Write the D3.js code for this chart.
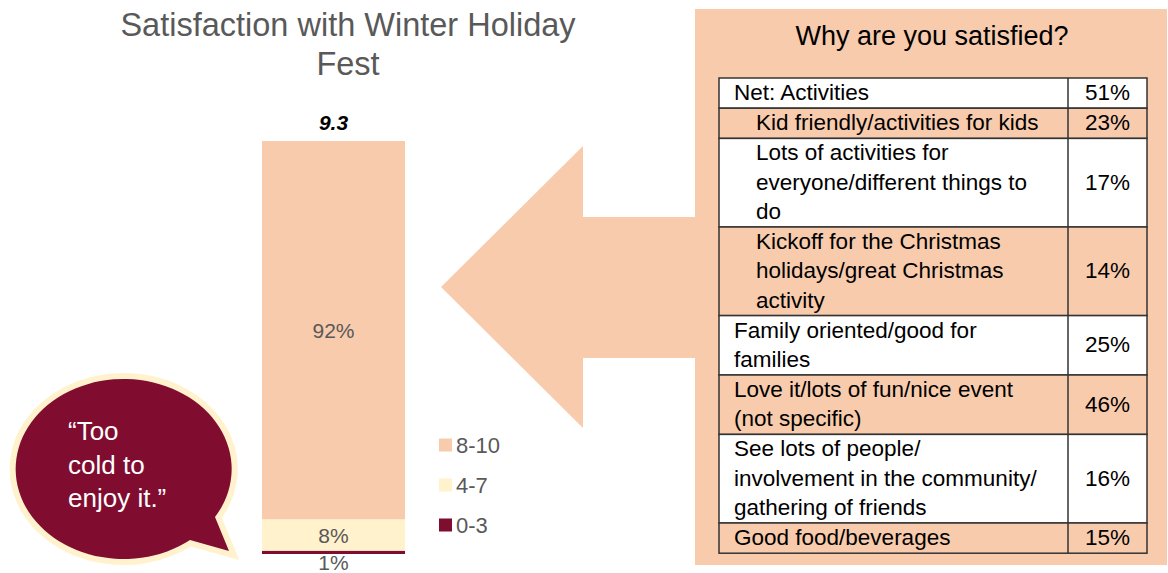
<!DOCTYPE html>
<html>
<head>
<meta charset="utf-8">
<script src="https://cdn.jsdelivr.net/npm/d3@7"></script>
<style>
  body { margin: 0; background: #fff; }
  svg { display: block; font-family: "Liberation Sans", Arial, sans-serif; }
</style>
</head>
<body>
<svg id="chart" width="1168" height="573"></svg>
<script>
// stacked bar, bottom to top
var bands = ["0-3", "4-7", "8-10"];
var shares = [0.8, 7.6, 91.6];
var bandColors = ["#7f0d30", "#fff2cc", "#f8cbad"];
var meanScore = "9.3";

// table on the right
var reasons = [
  ["Net: Activities"],
  ["Kid friendly/activities for kids"],
  ["Lots of activities for", "everyone/different things to", "do"],
  ["Kickoff for the Christmas", "holidays/great Christmas", "activity"],
  ["Family oriented/good for", "families"],
  ["Love it/lots of fun/nice event", "(not specific)"],
  ["See lots of people/", "involvement in the community/", "gathering of friends"],
  ["Good food/beverages"]
];
var reasonPct = [51, 23, 17, 14, 25, 46, 16, 15];
var isSubItem = [false, true, true, true, false, false, false, false];

var quote = ["\u201CToo", "cold to", "enjoy it.\u201D"];

(function() {
  var svg = d3.select("#chart"),
    peach = "#f8cbad",
    grey = "#595959";

  // ---- title
  svg.append("text")
      .attr("x", 348).attr("y", 36)
      .attr("text-anchor", "middle")
      .attr("fill", grey)
      .attr("font-size", 32.5)
    .selectAll("tspan")
    .data(["Satisfaction with Winter Holiday", "Fest"])
    .enter().append("tspan")
      .attr("x", 348)
      .attr("dy", function(d, i) { return i ? 39 : 0; })
      .text(function(d) { return d; });

  // ---- bar
  var y = d3.scaleLinear().domain([0, 100]).range([554, 141]);
  var x = d3.scaleBand().domain(["all"]).range([262, 405]).padding(0);

  var row = {};
  bands.forEach(function(b, i) { row[b] = shares[i]; });
  var series = d3.stack().keys(bands)([row]);
  var color = d3.scaleOrdinal().domain(bands).range(bandColors);
  var fmt = function(v) { return Math.round(v) + "%"; };

  var seg = svg.append("g").selectAll("g")
    .data(series)
    .enter().append("g");

  seg.append("rect")
      .attr("x", x("all"))
      .attr("width", x.bandwidth())
      .attr("y", function(d) { return y(d[0][1]); })
      .attr("height", function(d) { return y(d[0][0]) - y(d[0][1]); })
      .attr("fill", function(d) { return color(d.key); });

  seg.append("text")
      .attr("x", x("all") + x.bandwidth() / 2)
      .attr("y", function(d) {
        var top = y(d[0][1]), bot = y(d[0][0]);
        if (bot - top < 20) return bot + 16; // too thin, put below
        return (top + bot) / 2 + 7.5;
      })
      .attr("text-anchor", "middle")
      .attr("fill", grey)
      .attr("font-size", 21)
      .text(function(d) { return fmt(d[0][1] - d[0][0]); });

  svg.append("text")
      .attr("x", x("all") + x.bandwidth() / 2)
      .attr("y", y(100) - 11)
      .attr("text-anchor", "middle")
      .attr("font-size", 21)
      .attr("font-weight", "bold")
      .attr("font-style", "italic")
      .text(meanScore);

  // ---- legend
  var leg = svg.append("g").attr("transform", "translate(439,445)")
    .selectAll("g")
    .data(bands.slice().reverse())
    .enter().append("g")
      .attr("transform", function(d, i) { return "translate(0," + i * 40 + ")"; });
  leg.append("rect")
      .attr("y", -6.5).attr("width", 13).attr("height", 13)
      .attr("fill", function(d) { return color(d); });
  leg.append("text")
      .attr("x", 17).attr("y", 8)
      .attr("fill", grey)
      .attr("font-size", 22)
      .text(function(d) { return d; });

  // ---- arrow + panel
  svg.append("polygon")
      .attr("points", "441,287 583,146 583,217 700,217 700,358 583,358 583,428")
      .attr("fill", peach);
  svg.append("rect")
      .attr("x", 695).attr("y", 9).attr("width", 472).attr("height", 556)
      .attr("fill", peach);
  svg.append("text")
      .attr("x", 932).attr("y", 45)
      .attr("text-anchor", "middle")
      .attr("font-size", 27)
      .text("Why are you satisfied?");

  // ---- table
  var lineH = 29.2, fs = 22.5,
    tLeft = 719, tDiv = 1068, tRight = 1147, tTop = 78;
  var tops = [], t = tTop;
  reasons.forEach(function(r) { tops.push(t); t += r.length * lineH + 1; });

  var rows = svg.append("g").selectAll("g")
    .data(reasons)
    .enter().append("g")
      .attr("transform", function(d, i) { return "translate(0," + tops[i] + ")"; });

  rows.append("rect")
      .attr("x", tLeft).attr("width", tRight - tLeft)
      .attr("height", function(d) { return d.length * lineH + 1; })
      .attr("fill", function(d, i) { return i % 2 ? peach : "#fff"; })
      .attr("stroke", "#333")
      .attr("stroke-width", 1.5);
  rows.append("line")
      .attr("x1", tDiv).attr("x2", tDiv)
      .attr("y1", 0).attr("y2", function(d) { return d.length * lineH + 1; })
      .attr("stroke", "#333")
      .attr("stroke-width", 1.5);

  rows.append("text")
      .attr("font-size", fs)
    .selectAll("tspan")
    .data(function(d, i) { return d.map(function(s) { return { s: s, n: d.length, sub: isSubItem[i] }; }); })
    .enter().append("tspan")
      .attr("x", function(d) { return d.sub ? 756 : 734; })
      .attr("y", function(d, j) { return (d.n * lineH + 1) / 2 + (j - (d.n - 1) / 2) * lineH + 7; })
      .text(function(d) { return d.s; });

  rows.append("text")
      .attr("x", (tDiv + tRight) / 2)
      .attr("y", function(d) { return (d.length * lineH + 1) / 2 + 7; })
      .attr("text-anchor", "middle")
      .attr("font-size", fs)
      .text(function(d, i) { return reasonPct[i] + "%"; });

  // ---- speech bubble (ellipse with a tail at lower right)
  var rx = 108, ry = 90;
  var p = "M215,517 A" + rx + "," + ry + " 0 1 0 190,540 L229,551 Z";
  svg.append("path")
      .attr("d", p)
      .attr("fill", "#800d30")
      .attr("stroke", "#fff2cc")
      .attr("stroke-width", 12)
      .attr("stroke-linejoin", "miter")
      .attr("stroke-miterlimit", 10)
      .attr("paint-order", "stroke");

  svg.append("text")
      .attr("fill", "#fff")
      .attr("font-size", 26)
    .selectAll("tspan")
    .data(quote)
    .enter().append("tspan")
      .attr("x", 68)
      .attr("y", function(d, i) { return 440 + i * 33.5; })
      .text(function(d) { return d; });
})();
</script>
</body>
</html>
